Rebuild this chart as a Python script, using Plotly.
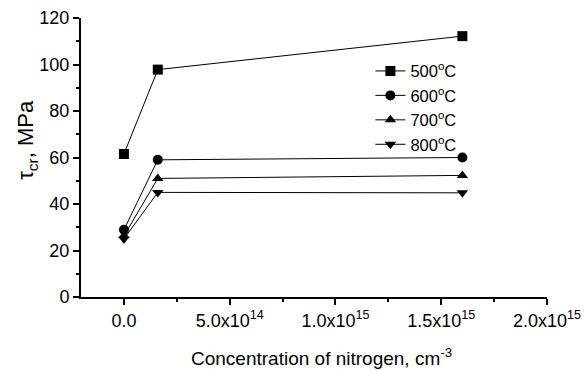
import plotly.graph_objects as go

conc = [0.0, 1.6e14, 1.6e15]
tau_500 = [61.5, 97.8, 112.2]
tau_600 = [28.9, 59.0, 60.0]
tau_700 = [26.3, 51.0, 52.3]
tau_800 = [25.0, 45.0, 44.8]
series_names = ["500<sup>o</sup>C", "600<sup>o</sup>C", "700<sup>o</sup>C", "800<sup>o</sup>C"]
symbols = ["square", "circle", "triangle-up", "triangle-down"]

x_tickvals = [0.0, 5e14, 1e15, 1.5e15, 2e15]
x_ticktext = ["0.0", "5.0x10<sup>14</sup>", "1.0x10<sup>15</sup>", "1.5x10<sup>15</sup>", "2.0x10<sup>15</sup>"]
y_tickvals = [0, 20, 40, 60, 80, 100, 120]

fig = go.Figure()
for name, ys, sym in zip(series_names, [tau_500, tau_600, tau_700, tau_800], symbols):
    fig.add_trace(go.Scatter(
        x=conc, y=ys, name=name, mode="lines+markers",
        line=dict(color="black", width=1),
        marker=dict(symbol=sym, size=10, color="black"),
        cliponaxis=False,
    ))

font = "Liberation Sans, Arial, sans-serif"
fig.update_layout(
    width=587, height=371,
    margin=dict(l=81, r=40, t=18, b=74, autoexpand=False),
    paper_bgcolor="white", plot_bgcolor="white",
    font=dict(family=font, color="black", size=18),
    showlegend=True,
    legend=dict(x=0.621, y=0.872, xanchor="left", yanchor="top",
                bgcolor="rgba(0,0,0,0)", font=dict(size=16.5),
                tracegroupgap=0, itemwidth=30),
    xaxis=dict(
        range=[-2.03e14, 2e15], tickvals=x_tickvals, ticktext=x_ticktext, automargin=False,
        showgrid=False, zeroline=False, showline=True, linecolor="black", linewidth=2,
        ticks="outside", ticklen=6, tickwidth=2, tickcolor="black",
        minor=dict(tickvals=[2.5e14, 7.5e14, 1.25e15, 1.75e15], ticks="outside", ticklen=3, tickwidth=2, tickcolor="black"),
        tickfont=dict(size=18),
    ),
    yaxis=dict(
        range=[0, 120], tickvals=y_tickvals, automargin=False,
        showgrid=False, zeroline=False, showline=True, linecolor="black", linewidth=2,
        ticks="outside", ticklen=6, tickwidth=2, tickcolor="black",
        minor=dict(tickvals=[10, 30, 50, 70, 90, 110], ticks="outside", ticklen=3, tickwidth=2, tickcolor="black"),
        tickfont=dict(size=18),
    ),
    annotations=[
        dict(text="Concentration of nitrogen, cm<sup>-3</sup>", xref="paper", yref="paper",
             x=0.517, y=-0.215, xanchor="center", yanchor="middle", showarrow=False,
             font=dict(size=19)),
        dict(text="τ<sub>cr</sub>, MPa", xref="paper", yref="paper", textangle=-90,
             x=-0.116, y=0.563, xanchor="center", yanchor="middle", showarrow=False,
             font=dict(size=22)),
    ],
)

fig.write_html("out.html")
